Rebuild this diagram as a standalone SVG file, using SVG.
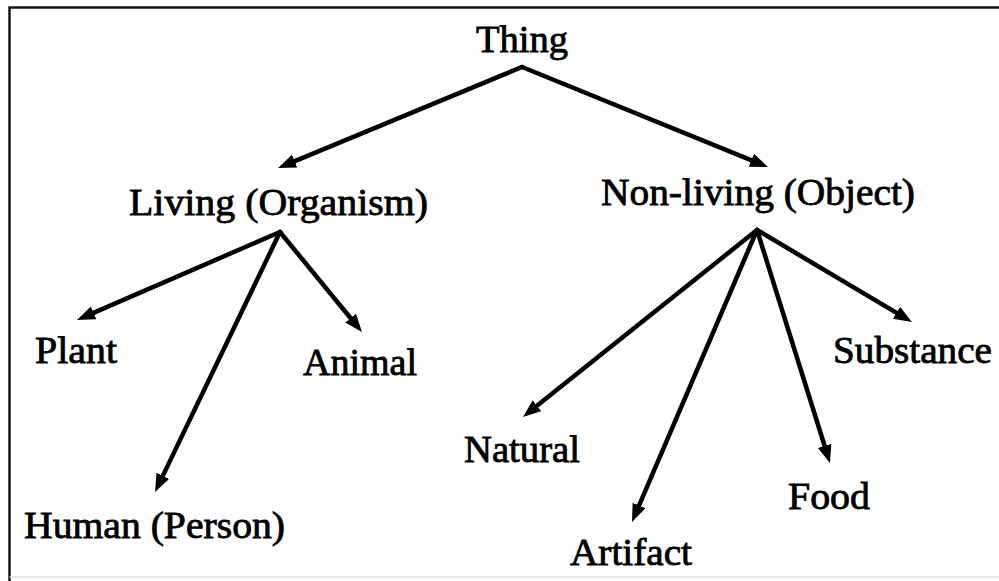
<svg xmlns="http://www.w3.org/2000/svg" width="999" height="581" viewBox="0 0 999 581">
  <style>
    .label { font-family: "Liberation Serif", "Times New Roman", serif; font-size: 37px; fill: #000; stroke: #000; stroke-width: 0.8; }
    .edge { stroke: #000; stroke-width: 4.5; fill: none; stroke-linecap: round; marker-end: url(#head); }
    .frame { stroke: #151515; stroke-width: 2.5; fill: none; }
  </style>
  <defs>
    <marker id="head" markerUnits="userSpaceOnUse" markerWidth="20" markerHeight="16" refX="7" refY="7" orient="auto">
      <path d="M0,0 L18,7 L0,14 z" fill="#000"/>
    </marker>
  </defs>
  <rect width="999" height="581" fill="#fff"/>

  <!-- frame -->
  <g id="frame">
    <path class="frame" d="M9.5,581 V7.5 H999"/>
    <path d="M9.5,577 H999" stroke="#dcdcdc" stroke-width="1.5"/>
  </g>

  <!-- connectors -->
  <g id="connectors">
    <path class="edge" d="M522,67 L288.2,163.8"/>
    <path class="edge" d="M522,67 L757.8,162.9"/>
    <path class="edge" d="M280,232 L87.1,315.6"/>
    <path class="edge" d="M280,232 L159.8,482.1"/>
    <path class="edge" d="M280,232 L355,323.5"/>
    <path class="edge" d="M757,230 L531.6,410.1"/>
    <path class="edge" d="M757,230 L636.3,511.9"/>
    <path class="edge" d="M757,230 L826.7,452.5"/>
    <path class="edge" d="M757,230 L902.5,316.4"/>
  </g>

  <!-- nodes -->
  <g id="thing"><text class="label" x="476" y="52" textLength="92" lengthAdjust="spacingAndGlyphs">Thing</text></g>
  <g id="living"><text class="label" x="129" y="215" textLength="299" lengthAdjust="spacingAndGlyphs">Living (Organism)</text></g>
  <g id="nonliving"><text class="label" x="601" y="205" textLength="314" lengthAdjust="spacingAndGlyphs">Non-living (Object)</text></g>
  <g id="plant"><text class="label" x="35" y="363" textLength="82" lengthAdjust="spacingAndGlyphs">Plant</text></g>
  <g id="animal"><text class="label" x="303" y="375" textLength="114" lengthAdjust="spacingAndGlyphs">Animal</text></g>
  <g id="human"><text class="label" x="24" y="538" textLength="261" lengthAdjust="spacingAndGlyphs">Human (Person)</text></g>
  <g id="natural"><text class="label" x="464" y="462" textLength="116" lengthAdjust="spacingAndGlyphs">Natural</text></g>
  <g id="artifact"><text class="label" x="570" y="565" textLength="122" lengthAdjust="spacingAndGlyphs">Artifact</text></g>
  <g id="food"><text class="label" x="788" y="509" textLength="82" lengthAdjust="spacingAndGlyphs">Food</text></g>
  <g id="substance"><text class="label" x="833" y="363" textLength="159" lengthAdjust="spacingAndGlyphs">Substance</text></g>
</svg>
